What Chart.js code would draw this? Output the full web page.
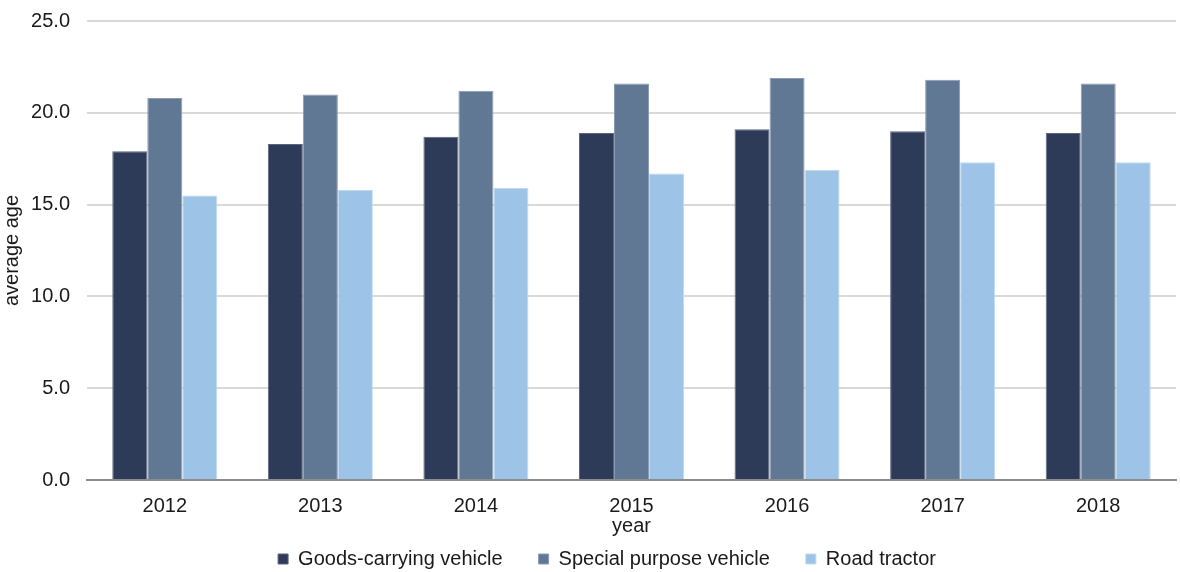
<!DOCTYPE html>
<html>
<head>
<meta charset="utf-8">
<script src="https://cdn.jsdelivr.net/npm/chart.js@4"></script>
<style>
  html, body { margin: 0; padding: 0; background: #fff; }
  #wrap { width: 1180px; height: 572px; position: relative; }
</style>
</head>
<body>
<div id="wrap"><canvas id="ageChart"></canvas></div>
<script>
// Average age by vehicle type
const years = ['2012', '2013', '2014', '2015', '2016', '2017', '2018'];
const goodsCarrying = [17.9, 18.3, 18.7, 18.9, 19.1, 19.0, 18.9];
const specialPurpose = [20.8, 21.0, 21.2, 21.6, 21.9, 21.8, 21.6];
const roadTractor = [15.5, 15.8, 15.9, 16.7, 16.9, 17.3, 17.3];
const yTicks = [0, 5, 10, 15, 20, 25];

const FONT = 'Liberation Sans, Arial, sans-serif';
const TEXT = '#1a1a1a';

// legend: keep its box short (labels.padding is also used vertically)
// and nudge it a bit right of the canvas middle like the reference
const legendTweak = {
  id: 'legendTweak',
  beforeLayout(chart) {
    const lg = chart.legend;
    if (lg && !lg._wrapped) {
      const fit = lg.fit;
      lg.fit = function () {
        fit.call(this);
        this.height = 34;
      };
      lg._wrapped = true;
    }
  },
  afterLayout(chart) {
    const lg = chart.legend;
    if (lg) {
      lg.left += 19; lg.right += 19;
      lg.top -= 25;
    }
  }
};

function makeSet(label, data, color, edge) {
  return {
    label: label,
    data: data,
    backgroundColor: color,
    borderColor: edge,
    borderWidth: 1,
    barPercentage: 1.0,
    categoryPercentage: 0.675
  };
}

const ctx = document.getElementById('ageChart').getContext('2d');
new Chart(ctx, {
  type: 'bar',
  data: {
    labels: years,
    datasets: [
      makeSet('Goods-carrying vehicle', goodsCarrying, '#2E3B58', '#5a6580'),
      makeSet('Special purpose vehicle', specialPurpose, '#617895', '#8a9bb2'),
      makeSet('Road tractor', roadTractor, '#9DC3E6', '#c0d9ef')
    ]
  },
  options: {
    responsive: true,
    maintainAspectRatio: false,
    animation: false,
    layout: { padding: { top: 0, right: 4, left: 0, bottom: 0 } },
    plugins: {
      tooltip: { enabled: false },
      legend: {
        position: 'bottom',
        labels: {
          color: TEXT,
          font: { family: FONT, size: 20 },
          boxWidth: 10,
          boxHeight: 10,
          padding: 36
        }
      }
    },
    scales: {
      x: {
        afterFit(scale) { scale.height = 58; },
        grid: { display: false, drawTicks: false },
        border: { display: true, color: '#8c8c8c', width: 2 },
        ticks: { color: TEXT, font: { family: FONT, size: 20 }, padding: 14 },
        title: {
          display: true,
          text: 'year',
          color: TEXT,
          font: { family: FONT, size: 20 },
          padding: { top: 0, bottom: 0 }
        }
      },
      y: {
        min: 0,
        max: 25,
        afterBuildTicks(scale) {
          scale.ticks = yTicks.map(v => ({ value: v }));
        },
        afterFit(scale) {
          scale.width = 87;
          scale.paddingTop = 21;
          scale.paddingBottom = 12;
        },
        grid: { color: '#d9d9d9', lineWidth: 2, drawTicks: false },
        border: { display: false },
        ticks: {
          color: TEXT,
          font: { family: FONT, size: 20 },
          padding: 17,
          callback: v => Number(v).toFixed(1)
        },
        title: {
          display: true,
          text: 'average age',
          color: TEXT,
          font: { family: FONT, size: 20 },
          padding: { top: 0, bottom: 6 }
        }
      }
    }
  },
  plugins: [legendTweak]
});
</script>
</body>
</html>
